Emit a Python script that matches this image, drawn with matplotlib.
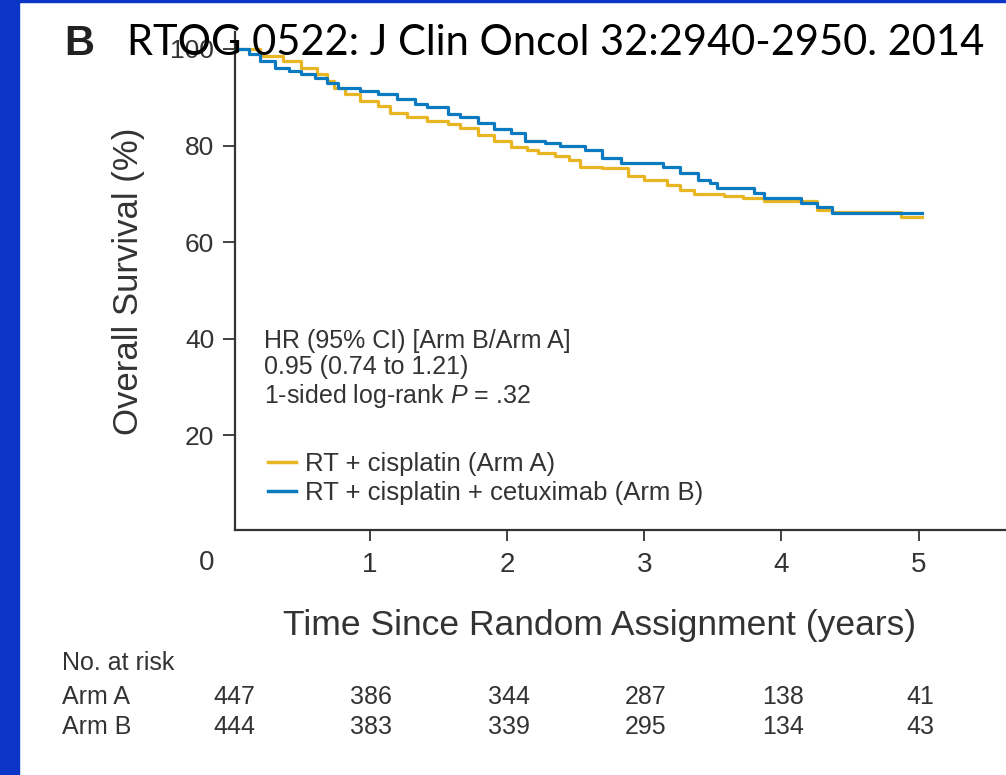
import matplotlib
matplotlib.use("Agg")
import matplotlib.pyplot as plt
from matplotlib.patches import Rectangle
from matplotlib.lines import Line2D

W, H = 1006, 775

# Kaplan-Meier readings (years, % surviving)
arm_a_t = [0, 0.2, 0.37, 0.5, 0.62, 0.69, 0.74, 0.82, 0.93, 1.06, 1.15, 1.27, 1.42, 1.57,
           1.66, 1.79, 1.91, 2.03, 2.15, 2.23, 2.35, 2.45, 2.53, 2.69, 2.88, 3.0, 3.17,
           3.26, 3.36, 3.58, 3.72, 3.87, 4.26, 4.37, 4.87, 5.02]
arm_a_s = [100, 98.6, 97.5, 96.1, 94.8, 93.4, 92.0, 90.7, 89.3, 88.2, 86.8, 85.8, 85.0, 84.5,
           83.7, 82.1, 81.0, 79.6, 79.0, 78.4, 77.9, 76.9, 75.5, 75.3, 73.6, 72.8, 71.8,
           70.7, 69.9, 69.5, 69.1, 68.5, 66.6, 66.2, 65.2, 65.2]

arm_b_t = [0, 0.12, 0.2, 0.31, 0.41, 0.5, 0.6, 0.69, 0.77, 0.93, 1.06, 1.2, 1.33, 1.42,
           1.57, 1.66, 1.79, 1.91, 2.03, 2.13, 2.28, 2.39, 2.57, 2.69, 2.83, 3.14, 3.26,
           3.39, 3.48, 3.53, 3.8, 3.87, 4.14, 4.26, 4.37, 5.02]
arm_b_s = [100, 99.0, 97.5, 96.1, 95.5, 94.8, 94.0, 93.0, 92.0, 91.3, 90.7, 89.7, 88.6, 88.0,
           86.6, 85.8, 84.7, 83.5, 82.5, 81.0, 80.6, 80.0, 79.0, 77.5, 76.3, 75.5, 74.4,
           72.8, 72.2, 71.3, 70.1, 69.1, 68.2, 67.2, 66.0, 66.0]

risk_years = [0, 1, 2, 3, 4, 5]
risk_a = [447, 386, 344, 287, 138, 41]
risk_b = [444, 383, 339, 295, 134, 43]

label_a = "RT + cisplatin (Arm A)"
label_b = "RT + cisplatin + cetuximab (Arm B)"
color_a = '#E8B523'
color_b = '#0B7AC0'
txt = '#333333'

plt.rcParams['font.family'] = ['Liberation Sans', 'DejaVu Sans']
plt.rcParams['mathtext.fontset'] = 'custom'
plt.rcParams['mathtext.it'] = 'Liberation Sans:italic'
plt.rcParams['mathtext.rm'] = 'Liberation Sans'

def fx(x):
    return x / W

def fy(y):
    return 1 - y / H

fig = plt.figure(figsize=(W / 100, H / 100), dpi=100)
fig.patch.set_facecolor('white')

# blue slide frame
fig.add_artist(Rectangle((0, 0), fx(19), 1, transform=fig.transFigure,
                         color='#0A35C6', zorder=0))
fig.add_artist(Rectangle((0, fy(2)), 1, fy(0) - fy(2), transform=fig.transFigure,
                         color='#0A35C6', zorder=0))

px_per_year = 137.3
x0 = 0.02
ax = fig.add_axes([fx(235), fy(530), 1 - fx(235), fy(32) - fy(530)])
ax.step(arm_a_t, arm_a_s, where='post', color=color_a, lw=2.3, label=label_a)
ax.step(arm_b_t, arm_b_s, where='post', color=color_b, lw=2.3, label=label_b)

ax.set_xlim(x0, x0 + (W - 235) / px_per_year)
ax.set_ylim(0.4, 103.5)
for s in ['top', 'right']:
    ax.spines[s].set_visible(False)
for s in ['left', 'bottom']:
    ax.spines[s].set_linewidth(1.6)
    ax.spines[s].set_color(txt)

ax.set_yticks([20, 40, 60, 80, 100])
ax.set_xticks([1, 2, 3, 4, 5])
ax.tick_params(axis='both', width=1.3, color=txt, direction='out')
ax.tick_params(axis='y', length=9, labelsize=19, labelcolor=txt, pad=6)
ax.tick_params(axis='x', length=8, labelsize=20, labelcolor=txt, pad=8)

ax.set_ylabel('Overall Survival (%)', fontsize=25, color=txt, labelpad=18)
fig.text(fx(207), fy(563), '0', fontsize=20, color=txt, ha='center', va='center')
fig.text(fx(600), fy(625), 'Time Since Random Assignment (years)', fontsize=25.5,
         color=txt, ha='center', va='center')

# hazard ratio box
hr_x = 0.23
ax.text(hr_x, 39.5, 'HR (95% CI) [Arm B/Arm A]', fontsize=18, color=txt, va='center')
ax.text(hr_x, 34.1, '0.95 (0.74 to 1.21)', fontsize=18, color=txt, va='center')
ax.text(hr_x, 28.1, r'1-sided log-rank $\it{P}$ = .32', fontsize=18, color=txt,
        va='center')

handles = [Line2D([], [], color=color_a, lw=2.5), Line2D([], [], color=color_b, lw=2.5)]
ax.legend(handles, [label_a, label_b], loc='upper left',
          bbox_to_anchor=(fx(268), fy(452)), bbox_transform=fig.transFigure,
          frameon=False, fontsize=18.5, handlelength=1.1, handletextpad=0.35,
          labelspacing=0.2, labelcolor=txt, borderpad=0, borderaxespad=0)

# title
fig.text(fx(64), fy(55), 'B', fontsize=30, fontweight='bold', color='#222222',
         va='baseline')
fig.text(fx(127), fy(55), 'RTOG 0522: J Clin Oncol 32:2940-2950. 2014', fontsize=30,
         family=['Lato', 'DejaVu Sans'], color='black', va='baseline')

# number at risk table
fig.text(fx(62), fy(663), 'No. at risk', fontsize=18, color=txt, va='center')
fig.text(fx(62), fy(697), 'Arm A', fontsize=18, color=txt, va='center')
fig.text(fx(62), fy(727), 'Arm B', fontsize=18, color=txt, va='center')
for yr, a, b in zip(risk_years, risk_a, risk_b):
    xp = 234 + px_per_year * yr
    fig.text(fx(xp), fy(697), str(a), fontsize=18, color=txt, ha='center', va='center')
    fig.text(fx(xp), fy(727), str(b), fontsize=18, color=txt, ha='center', va='center')

fig.savefig('out.png', dpi=100)
